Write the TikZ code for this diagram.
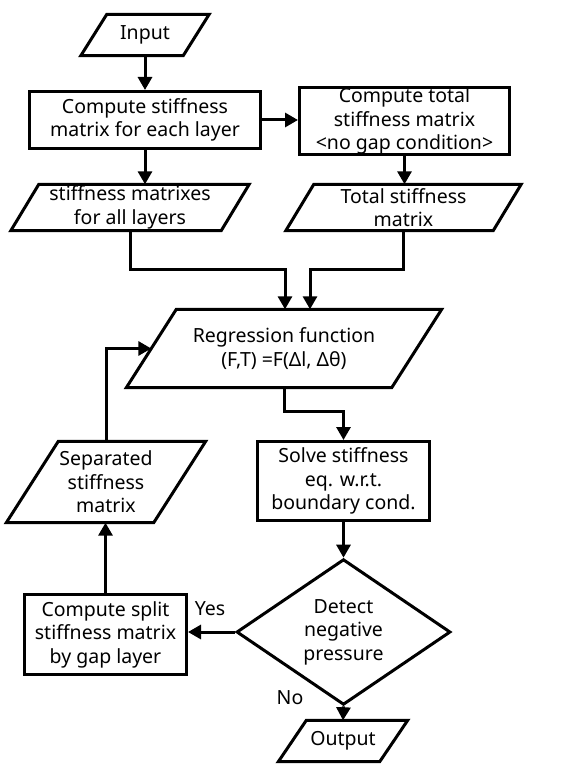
\documentclass[tikz,border=0pt]{standalone}
\usepackage{fontspec}
\setmainfont{Noto Sans}
\usetikzlibrary{arrows.meta,shapes.geometric,calc}
\tikzset{
  lw/.style={line width=3pt},
  procbox/.style={draw, lw, rectangle, align=center, inner sep=0pt, font=\fontsize{19.5}{23.5}\selectfont},
  parabox/.style={rectangle, align=center, inner sep=0pt, font=\fontsize{19.5}{23.5}\selectfont},
  decbox/.style={draw, lw, diamond, align=center, inner sep=0pt, font=\fontsize{19.5}{23.5}\selectfont},
  lbl/.style={inner sep=0pt, font=\fontsize{19.5}{23.5}\selectfont},
  conn/.style={lw, -{Triangle[length=13pt 0 0,width=14pt 0 0]}},
  plain/.style={lw}
}
\newcommand\paraoutline[2]{\draw[lw, line join=miter] ([xshift=#2]#1.north west) -- ([xshift=#2]#1.north east) -- ([xshift=-#2]#1.south east) -- ([xshift=-#2]#1.south west) -- cycle;}
\begin{document}
\begin{tikzpicture}[x=1pt,y=-1pt]
\useasboundingbox[fill=white] (0,0) rectangle (584,765);
% nodes
\node[parabox, minimum width=102, minimum height=41] (in) at (145,35) {Input};
\paraoutline{in}{13}
\node[procbox, minimum width=231, minimum height=57] (c1) at (145,120) {Compute stiffness\\matrix for each layer};
\node[procbox, minimum width=210, minimum height=67] (c2) at (404.5,121) {Compute total\\stiffness matrix\\<no gap condition>};
\node[parabox, minimum width=210, minimum height=46] (p2) at (130,207.5) {stiffness matrixes\\for all layers};
\paraoutline{p2}{14}
\node[parabox, minimum width=207, minimum height=46] (p3) at (403.5,207.5) {Total stiffness\\matrix};
\paraoutline{p3}{14}
\node[parabox, minimum width=265, minimum height=78] (p4) at (284,348.5) {Regression function\\(F,T) =F(Δl, Δθ)};
\paraoutline{p4}{25}
\node[procbox, minimum width=172, minimum height=79] (c3) at (343.5,481) {Solve stiffness\\eq. w.r.t.\\boundary cond.};
\node[decbox, minimum width=214, minimum height=121] (d) at (343.5,632) {Detect\\negative\\pressure};
\node[procbox, minimum width=162, minimum height=80] (c4) at (105.5,634.5) {Compute split\\stiffness matrix\\by gap layer};
\node[parabox, minimum width=147, minimum height=81] (p5) at (106,482) {Separated\\stiffness\\matrix};
\paraoutline{p5}{26}
\node[parabox, minimum width=101, minimum height=41] (out) at (343,741) {Output};
\paraoutline{out}{14}
\node[lbl] (yes) at (210,609) {Yes};
\node[lbl] (no) at (290,698) {No};
% junction points
\coordinate (m1) at (285,269);
\coordinate (m2) at (310,269);
% connectors
\draw[conn] (in.south) -- (c1.north);
\draw[conn] (c1.east) -- (c1.east -| c2.west);
\draw[conn] (c1.south) -- (c1.south |- p2.north);
\draw[conn] (c2.south) -- (c2.south |- p3.north);
\draw[conn] (p2.south) |- (m1) -- (m1 |- p4.north);
\draw[conn] (p3.south) |- (m2) -- (m2 |- p4.north);
\draw[conn] (p4.south) -- ++(0,24) -| (c3.north);
\draw[conn] (c3.south) -- (d.north);
\draw[conn] (d.west) -- (d.west -| c4.east);
\draw[conn] (c4.north) -- (c4.north |- p5.south);
\draw[conn] (p5.north) |- (p4.west);
\draw[conn] (d.south) -- (out.north);
\end{tikzpicture}
\end{document}
